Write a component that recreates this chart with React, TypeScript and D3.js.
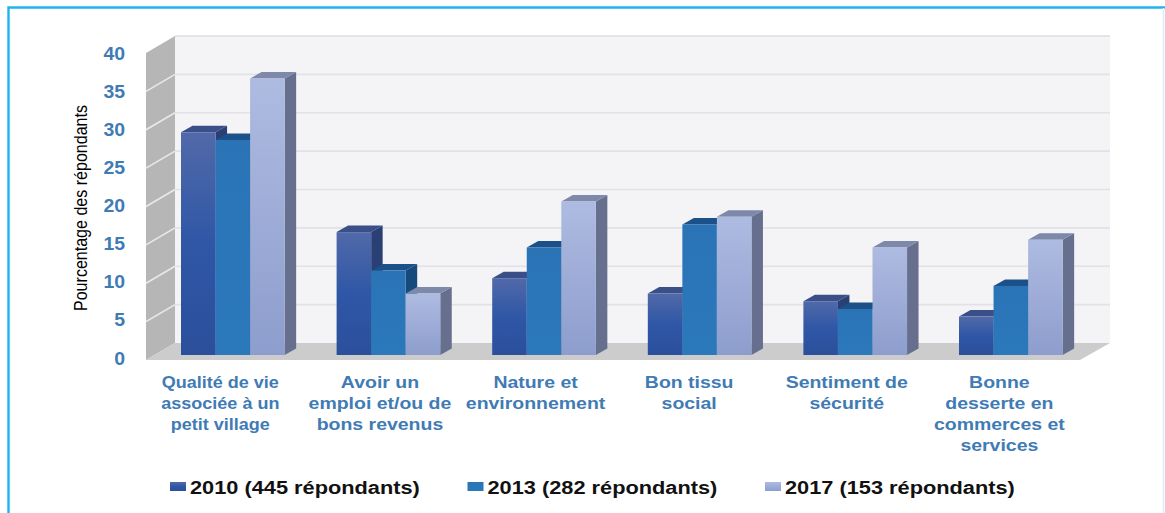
import React from "react";
import * as d3 from "d3";

const categories = [
  ["Qualité de vie", "associée à un", "petit village"],
  ["Avoir un", "emploi et/ou de", "bons revenus"],
  ["Nature et", "environnement"],
  ["Bon tissu", "social"],
  ["Sentiment de", "sécurité"],
  ["Bonne", "desserte en", "commerces et", "services"],
];
const seriesNames = ["2010 (445 répondants)", "2013 (282 répondants)", "2017 (153 répondants)"];
const values2010 = [29, 16, 10, 8, 7, 5];
const values2013 = [28, 11, 14, 17, 6, 9];
const values2017 = [36, 8, 20, 18, 14, 15];
const series = [values2010, values2013, values2017];
const ticks = [0, 5, 10, 15, 20, 25, 30, 35, 40];

const DX = 29, DY = -17; // wall depth
const BX = 11.5, BY = -6.5; // bar depth
const y = d3.scaleLinear().domain([0, 40]).range([360, 53]);
const barY = d3.scaleLinear().domain([0, 40]).range([355, 47.8]);
const group = d3.scaleBand<number>().domain(d3.range(6)).range([181 - 26.45, 181 - 26.45 + 155.6 * 6]).paddingInner(0).paddingOuter(0);
const labelY = d3.scaleLinear().domain([0, 40]).range([358, 53]);
const labelNudge = [0, 4, 4, 2, 4, 1];
const labelStretch = [1.06, 1.145, 1.145, 1.145, 1.145, 1.145];

const stops = [
  [["0", "#5169a9"], ["0.5", "#2f57a6"], ["1", "#2b4f9b"]],
  [["0", "#2a74b6"], ["1", "#2b78bb"]],
  [["0", "#aebbe1"], ["1", "#8d9dcd"]],
];
const topCol = ["#3a4f88", "#1b5088", "#7d88ab"];
const sideCol = ["#2a4075", "#174a7c", "#666f8e"];
const blue = "#3f7bb4";
const FONT = "'Liberation Sans', Arial, sans-serif";

export default function App() {
  const barW = 34.55;
  return (
    <svg width={1165} height={513} style={{ position: "absolute", left: 0, top: 0, background: "#fff" }} fontFamily={FONT}>
      <defs>
        {stops.map((s, i) => (
          <linearGradient key={i} id={`g${i}`} x1="0" y1="0" x2="0" y2="1">
            {s.map(([o, c]) => <stop key={o} offset={o} stopColor={c} />)}
          </linearGradient>
        ))}
      </defs>
      {/* frame */}
      <path d="M8.5,513 V7.5 H1165" fill="none" stroke="#1fb4ee" strokeWidth={2.4} />
      <line x1={1163.5} y1={8} x2={1163.5} y2={513} stroke="#d6eef9" strokeWidth={1.5} />

      {/* walls */}
      <rect x={146 + DX} y={y(40) + DY} width={935} height={y(0) - y(40)} fill="#f4f4f6" />
      <path d={`M146,${y(40)} l${DX},${DY} V${y(0) + DY} L146,${y(0)} Z`} fill="#b6b6b6" />
      <path d={`M146,${y(0)} l${DX},${DY} H1110 L1080,${y(0)} Z`} fill="#cccccc" />
      {ticks.map((t) => (
        <g key={t} stroke={t === 40 ? "#dcdce2" : "#e2e2e6"} strokeWidth={1.6}>
          {t > 0 && <line x1={175} x2={1110} y1={y(t) + DY} y2={y(t) + DY} />}
          {t > 0 && t < 40 && <line x1={146} x2={175} y1={y(t)} y2={y(t) + DY} stroke="#e9e9e9" />}
        </g>
      ))}

      {/* bars */}
      {categories.map((_, c) =>
        series.map((vals, s) => {
          const x0 = group(c)! + 26.45 + s * barW;
          const top = barY(vals[c]);
          const base = barY(0);
          return (
            <g key={`${c}-${s}`}>
              <path d={`M${x0 + barW},${top} l${BX},${BY} V${base + BY} L${x0 + barW},${base} Z`} fill={sideCol[s]} />
              <path d={`M${x0},${top} l${BX},${BY} h${barW} l${-BX},${-BY} Z`} fill={topCol[s]} />
              <rect x={x0} y={top} width={barW} height={base - top} fill={`url(#g${s})`} />
            </g>
          );
        })
      )}

      {/* value axis */}
      {ticks.map((t) => (
        <text key={t} transform={`translate(125,${labelY(t) + 6.5}) scale(1.08,1)`} textAnchor="end" fontSize={18} fontWeight="bold" fill={blue}>{t}</text>
      ))}
      <text transform="translate(87,208) rotate(-90)" textAnchor="middle" fontSize={19} fill="#000"
        textLength={206} lengthAdjust="spacingAndGlyphs">Pourcentage des répondants</text>

      {/* category labels */}
      {categories.map((lines, c) =>
        lines.map((l, i) => (
          <text key={`${c}-${i}`} textAnchor="middle" fontSize={17} fontWeight="bold" fill={blue}
            transform={`translate(${group(c)! + group.bandwidth() / 2 - 12 + labelNudge[c]},${388 + i * 21}) scale(${labelStretch[c]},1)`}>{l}</text>
        ))
      )}

      {/* legend */}
      {seriesNames.map((n, i) => {
        const xs = [170, 467.5, 765][i];
        return (
          <g key={n}>
            <rect x={xs} y={482} width={16} height={9} fill={`url(#g${i})`} />
            <text transform={`translate(${xs + 20},494) scale(1.21,1)`} fontSize={18} fontWeight="bold" fill="#111">{n}</text>
          </g>
        );
      })}
    </svg>
  );
}
